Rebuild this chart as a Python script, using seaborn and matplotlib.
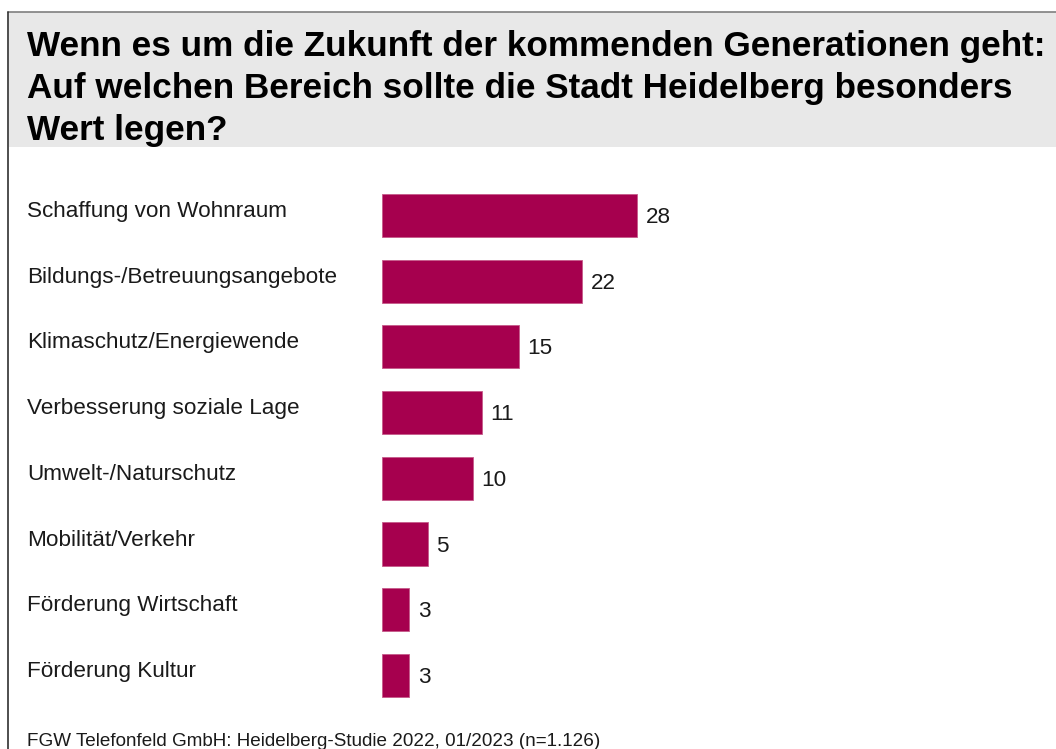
import matplotlib
matplotlib.use("Agg")
import matplotlib.pyplot as plt
import matplotlib.transforms as mtransforms
from matplotlib.patches import Rectangle
from matplotlib.lines import Line2D
import seaborn as sns
import pandas as pd

categories = [
    "Schaffung von Wohnraum",
    "Bildungs-/Betreuungsangebote",
    "Klimaschutz/Energiewende",
    "Verbesserung soziale Lage",
    "Umwelt-/Naturschutz",
    "Mobilität/Verkehr",
    "Förderung Wirtschaft",
    "Förderung Kultur",
]
values = [28, 22, 15, 11, 10, 5, 3, 3]
title_lines = [
    "Wenn es um die Zukunft der kommenden Generationen geht:",
    "Auf welchen Bereich sollte die Stadt Heidelberg besonders",
    "Wert legen?",
]
footer = "FGW Telefonfeld GmbH: Heidelberg-Studie 2022, 01/2023 (n=1.126)"

BAR_COLOR = "#A6004E"
W, H = 1056, 749
DPI = 100

sns.set_theme(style="white")
plt.rcParams["font.family"] = ["Liberation Sans", "DejaVu Sans"]

fig = plt.figure(figsize=(W / DPI, H / DPI), dpi=DPI)
fig.patch.set_facecolor("white")

def fy(py):
    return 1 - py / H

# header box and frame lines
fig.patches.append(Rectangle((9 / W, fy(147)), 1 - 9 / W, (147 - 12) / H,
                             transform=fig.transFigure, facecolor="#E8E8E8",
                             edgecolor="none", zorder=0))
fig.lines.append(Line2D([8 / W, 1], [fy(12), fy(12)], transform=fig.transFigure,
                        color="#7F7F7F", lw=1.2))
fig.lines.append(Line2D([8 / W, 8 / W], [fy(12), 0], transform=fig.transFigure,
                        color="#303030", lw=1.2))

for line, base in zip(title_lines, [56, 98, 140]):
    fig.text(27 / W, fy(base), line, fontsize=25.3, fontweight="bold",
             color="black", va="baseline", ha="left")

# axes
px_per_cat = 65.7
top = 215.5 - px_per_cat / 2
bottom = top + 8 * px_per_cat
left = 382
ax = fig.add_axes([left / W, fy(bottom), (W - left) / W, (bottom - top) / H])
df = pd.DataFrame({"cat": categories, "val": values})
sns.barplot(data=df, x="val", y="cat", orient="h", color=BAR_COLOR,
            saturation=1, width=0.655, edgecolor="#C65A8A", linewidth=0.6, ax=ax)
px_per_unit = 255 / 28
ax.set_xlim(0, (W - left) / px_per_unit)
ax.set_ylim(7.5, -0.5)
for s in ax.spines.values():
    s.set_visible(False)
ax.set_xticks([])
ax.set_yticks([])
ax.set_xlabel("")
ax.set_ylabel("")
ax.patch.set_alpha(0)

blend = mtransforms.blended_transform_factory(fig.transFigure, ax.transData)
for i, (c, v) in enumerate(zip(categories, values)):
    ax.text(27 / W, i + 1.5 / px_per_cat, c, transform=blend, fontsize=16.2,
            va="baseline", ha="left", color="#1a1a1a")
    ax.text(v + 8.5 / px_per_unit, i + 7.5 / px_per_cat, str(v), fontsize=16.2,
            va="baseline", ha="left", color="#1a1a1a")

fig.text(27 / W, fy(746), footer, fontsize=13.6, va="baseline", ha="left",
         color="#1a1a1a")

fig.savefig("out.png", dpi=DPI)
